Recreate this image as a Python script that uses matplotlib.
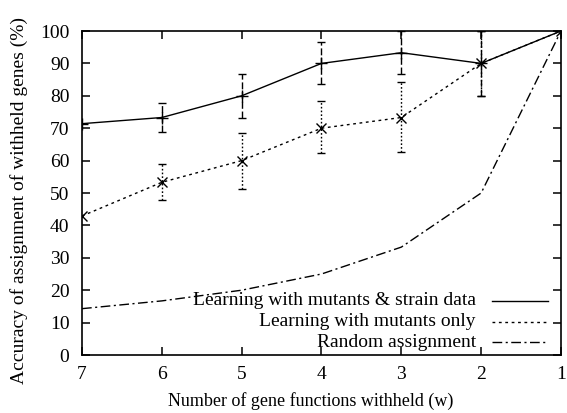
import numpy as np
import matplotlib
matplotlib.use("Agg")
import matplotlib.pyplot as plt
from matplotlib.lines import Line2D

plt.rcParams['font.family'] = ['Liberation Serif', 'DejaVu Serif']
plt.rcParams['mathtext.fontset'] = 'stix'

# ---- data ----
withheld = [7, 6, 5, 4, 3, 2, 1]

strain_acc = [71.4, 73.3, 80.0, 90.0, 93.3, 90.0, 100.0]
strain_lo = [np.nan, 68.8, 73.3, 83.5, 86.8, 80.0, np.nan]
strain_hi = [np.nan, 77.8, 86.7, 96.7, 100.0, 100.0, np.nan]

mutant_acc = [42.9, 53.3, 60.0, 70.0, 73.3, 90.0, 100.0]
mutant_lo = [np.nan, 47.8, 51.3, 62.2, 62.7, 80.0, np.nan]
mutant_hi = [np.nan, 58.9, 68.6, 78.3, 84.3, 100.0, np.nan]

random_acc = [14.3, 16.7, 20.0, 25.0, 33.3, 50.0, 100.0]

labels = ["Learning with mutants & strain data",
          "Learning with mutants only",
          "Random assignment"]

x_ticks = [7, 6, 5, 4, 3, 2, 1]
y_ticks = [0, 10, 20, 30, 40, 50, 60, 70, 80, 90, 100]

# ---- figure ----
fig = plt.figure(figsize=(5.67, 4.13), dpi=100)
ax = fig.add_axes([82/567, 1 - 355/413, (561-82)/567, (355-31)/413])

lw = 1.0
solid_style = '-'
dot_style = (0, (2.0, 2.6))
dashdot_style = (0, (7, 2.5, 1.5, 2.5))


def err(y, lo, hi):
    y = np.array(y); lo = np.array(lo); hi = np.array(hi)
    return np.vstack([y - lo, hi - y])


# strain series
e1 = ax.errorbar(withheld, strain_acc, yerr=err(strain_acc, strain_lo, strain_hi),
                 color='black', lw=lw, ls=solid_style, marker='+', ms=8, mew=1.0,
                 capsize=3, capthick=1.0, elinewidth=lw)
e1[2][0].set_linestyle((0, (5, 2)))

# mutant only series
e2 = ax.errorbar(withheld, mutant_acc, yerr=err(mutant_acc, mutant_lo, mutant_hi),
                 color='black', lw=lw, ls=dot_style, marker='x', ms=7, mew=1.0,
                 capsize=3, capthick=1.0, elinewidth=lw)
e2[2][0].set_linestyle((0, (1.2, 1.5)))

# random
ax.plot(withheld, random_acc, color='black', lw=lw, ls=dashdot_style)

ax.set_xlim(7, 1)
ax.set_ylim(0, 100)
ax.set_xticks(x_ticks)
ax.set_yticks(y_ticks)
ax.tick_params(direction='in', length=6, width=1.1, top=True, right=True,
               labelsize=14, pad=8)
ax.tick_params(axis='y', pad=9)
for s in ax.spines.values():
    s.set_linewidth(1.2)

ax.set_xlabel("Number of gene functions withheld (w)", fontsize=13)
ax.xaxis.set_label_coords(0.478, -0.115)
ax.set_ylabel("Accuracy of assignment of withheld genes (%)", fontsize=14)
ax.yaxis.set_label_coords(-0.113, 0.478)

# gnuplot-style legend: right-aligned text, sample line to the right
styles = [solid_style, dot_style, dashdot_style]
rows_y = [0.167, 0.103, 0.040]
for lab, st, yy in zip(labels, styles, rows_y):
    ax.text(0.8225, yy, lab, transform=ax.transAxes, ha='right', va='center',
            fontsize=14)
    ax.add_line(Line2D([0.856, 0.973], [yy, yy], transform=ax.transAxes,
                       color='black', lw=lw, ls=st))

fig.savefig("out.png", dpi=100)
